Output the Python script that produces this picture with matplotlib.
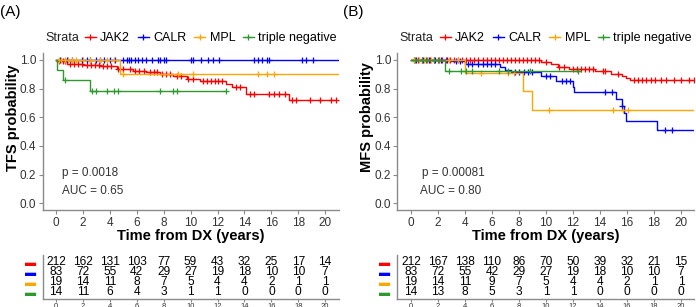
import numpy as np
import matplotlib
matplotlib.use("Agg")
import matplotlib.pyplot as plt
from matplotlib.lines import Line2D

plt.rcParams['font.family'] = ['Liberation Sans', 'DejaVu Sans']

strata = ["JAK2", "CALR", "MPL", "triple negative"]
colors = ["#FF0000", "#0000FF", "#FFA500", "#2E9A2E"]
risk_times = [0, 2, 4, 6, 8, 10, 12, 14, 16, 18, 20]

### panel A: TFS (step times, survival after step, last time, censor times)
tfs_jak2_t = [0, 0.1, 0.8, 2.0, 3.3, 4.5, 5.75, 6.7, 7.7, 8.7, 9.7, 10.7, 12.6, 13.1, 14.1, 17.3]
tfs_jak2_s = [1.0, 0.99, 0.975, 0.965, 0.955, 0.94, 0.925, 0.915, 0.90, 0.885, 0.87, 0.85, 0.83, 0.81, 0.76, 0.72]
tfs_jak2_end = 20.8
tfs_jak2_cens = [0.2, 0.5, 0.7, 1.0, 1.3, 1.6, 1.9, 2.3, 2.6, 2.9, 3.2, 3.5, 3.8, 4.1, 4.6, 5.0, 5.5,
                 5.9, 6.2, 6.5, 7.0, 7.3, 7.5, 7.9, 8.2, 8.5, 9.0, 9.3, 9.8, 10.2, 10.9, 11.2, 11.5,
                 11.8, 12.0, 12.3, 13.4, 13.7, 14.4, 14.7, 15.8, 16.2, 16.6, 17.0, 17.5, 17.8,
                 18.9, 19.6, 20.4, 20.8]

tfs_calr_t = [0]
tfs_calr_s = [1.0]
tfs_calr_end = 21.0
tfs_calr_cens = [0.3, 0.8, 1.2, 1.9, 2.3, 2.5, 3.0, 3.3, 3.6, 4.0, 4.4, 5.0, 5.3, 5.4, 5.6, 5.9, 6.1,
                 6.4, 6.7, 7.1, 7.6, 7.7, 8.0, 8.2, 10.0, 10.2, 10.8, 11.3, 11.7, 12.1, 14.7, 15.0,
                 15.3, 15.7, 15.8, 18.3, 18.6, 19.1]

tfs_mpl_t = [0, 4.75]
tfs_mpl_s = [1.0, 0.90]
tfs_mpl_end = 21.0
tfs_mpl_cens = [0.2, 0.4, 0.7, 0.9, 1.2, 1.5, 2.0, 2.5, 3.3, 3.8, 4.3, 5.0, 9.1, 10.2, 15.0, 15.7, 16.2]

tfs_tn_t = [0, 0.05, 0.5, 2.5]
tfs_tn_s = [1.0, 0.929, 0.857, 0.786]
tfs_tn_end = 12.6
tfs_tn_cens = [0.67, 2.65, 3.0, 3.8, 4.3, 4.6, 7.7, 8.7, 9.0, 12.6]

### panel B: MFS
mfs_jak2_t = [0, 9.6, 10.4, 10.9, 11.7, 13.6, 14.8, 15.6, 15.9, 16.2]
mfs_jak2_s = [1.0, 0.985, 0.97, 0.95, 0.935, 0.92, 0.90, 0.89, 0.875, 0.86]
mfs_jak2_end = 21.0
mfs_jak2_cens = [0.2, 0.5, 0.8, 1.1, 1.4, 1.7, 2.0, 2.3, 2.6, 2.9, 3.2, 3.5, 3.8, 4.1, 4.4, 4.7, 5.0,
                 5.3, 5.6, 5.9, 6.2, 6.5, 6.8, 7.1, 7.4, 7.7, 8.0, 8.3, 8.6, 8.9, 9.2, 9.5, 10.0,
                 11.0, 11.3, 12.0, 12.3, 12.6, 12.9, 13.2, 13.5, 14.2, 14.4, 15.3, 16.5, 16.8,
                 17.1, 17.4, 17.8, 18.1, 18.5, 18.9, 19.5, 20.0, 20.6, 21.0]

mfs_calr_t = [0, 3.0, 4.0, 6.6, 7.0, 7.4, 9.6, 10.75, 12.0, 12.1, 15.2, 15.6, 15.75, 15.9, 18.2]
mfs_calr_s = [1.0, 0.99, 0.97, 0.95, 0.93, 0.915, 0.885, 0.85, 0.81, 0.775, 0.725, 0.68, 0.63, 0.575, 0.51]
mfs_calr_end = 21.0
mfs_calr_cens = [0.4, 0.9, 1.3, 1.8, 2.2, 2.7, 3.3, 3.6, 4.2, 4.5, 5.0, 5.3, 5.6, 5.9, 6.2, 7.7, 8.0,
                 8.4, 8.7, 9.0, 10.0, 10.3, 11.2, 11.5, 11.8, 14.4, 14.9, 15.65, 18.8, 19.3]

mfs_mpl_t = [0, 4.0, 8.3, 9.0]
mfs_mpl_s = [1.0, 0.91, 0.785, 0.65]
mfs_mpl_end = 21.0
mfs_mpl_cens = [0.2, 0.6, 1.0, 1.5, 2.1, 2.8, 3.5, 5.2, 7.2, 7.6, 10.2, 15.0, 15.7, 16.1]

mfs_tn_t = [0, 2.5]
mfs_tn_s = [1.0, 0.92]
mfs_tn_end = 12.5
mfs_tn_cens = [0.3, 0.8, 1.2, 1.7, 2.1, 2.85, 3.7, 4.1, 4.5, 6.5, 7.2, 8.8, 12.4]

### numbers at risk
tfs_risk_jak2 = [212, 162, 131, 103, 77, 59, 43, 32, 25, 17, 14]
tfs_risk_calr = [83, 72, 55, 42, 29, 27, 19, 18, 10, 10, 7]
tfs_risk_mpl = [19, 14, 11, 8, 7, 5, 4, 4, 2, 1, 1]
tfs_risk_tn = [14, 11, 6, 4, 3, 1, 1, 0, 0, 0, 0]

mfs_risk_jak2 = [212, 167, 138, 110, 86, 70, 50, 39, 32, 21, 15]
mfs_risk_calr = [83, 72, 55, 42, 29, 27, 19, 18, 10, 10, 7]
mfs_risk_mpl = [19, 14, 11, 9, 7, 5, 4, 4, 2, 1, 1]
mfs_risk_tn = [14, 13, 8, 5, 3, 1, 1, 0, 0, 0, 0]

tfs_curves = [(tfs_jak2_t, tfs_jak2_s, tfs_jak2_end, tfs_jak2_cens),
              (tfs_calr_t, tfs_calr_s, tfs_calr_end, tfs_calr_cens),
              (tfs_mpl_t, tfs_mpl_s, tfs_mpl_end, tfs_mpl_cens),
              (tfs_tn_t, tfs_tn_s, tfs_tn_end, tfs_tn_cens)]
mfs_curves = [(mfs_jak2_t, mfs_jak2_s, mfs_jak2_end, mfs_jak2_cens),
              (mfs_calr_t, mfs_calr_s, mfs_calr_end, mfs_calr_cens),
              (mfs_mpl_t, mfs_mpl_s, mfs_mpl_end, mfs_mpl_cens),
              (mfs_tn_t, mfs_tn_s, mfs_tn_end, mfs_tn_cens)]

spine_col = "#8a8a8a"
tick_col = "#333333"


def draw_km(ax, curves, ylabel, pval, auc, txt_x):
    for (t, s, end, cens), col in zip(curves, colors):
        tt = list(t) + [end]
        ss = list(s) + [s[-1]]
        ax.step(tt, ss, where="post", color=col, lw=1.0)
        idx = np.searchsorted(t, cens, side="right") - 1
        ax.plot(cens, np.array(s)[idx], "+", color=col, ms=5, mew=0.9)
    ax.set_xlim(-1, 21)
    ax.set_ylim(-0.05, 1.05)
    ax.set_xticks(risk_times)
    ax.set_yticks([0, 0.2, 0.4, 0.6, 0.8, 1.0])
    ax.set_yticklabels(["0.0", "0.2", "0.4", "0.6", "0.8", "1.0"])
    for sp in ["top", "right"]:
        ax.spines[sp].set_visible(False)
    for sp in ["left", "bottom"]:
        ax.spines[sp].set_color(spine_col)
        ax.spines[sp].set_linewidth(1.0)
    ax.tick_params(colors=spine_col, labelcolor=tick_col, labelsize=8.5, length=3, pad=1.5)
    ax.set_xlabel("Time from DX (years)", fontsize=10.5, fontweight="bold", labelpad=0)
    ax.set_ylabel(ylabel, fontsize=10.5, fontweight="bold", labelpad=1)
    ax.yaxis.set_label_coords(-0.078, 0.59)
    ax.text(txt_x[0], 0.21, pval, fontsize=8.5, color=tick_col, va="center")
    ax.text(txt_x[1], 0.085, auc, fontsize=8.5, color=tick_col, va="center")
    # legend above the panel
    ax.text(0.008, 1.094, "Strata", transform=ax.transAxes, fontsize=9,
            va="center", ha="left", color="#222222")
    handles = [Line2D([0], [0], color=c, lw=1.0, marker="+", ms=5, mew=0.9) for c in colors]
    ax.legend(handles, strata, loc="center left", bbox_to_anchor=(0.142, 1.094), ncol=4,
              frameon=False, fontsize=9, handlelength=0.9, handletextpad=0.35,
              columnspacing=0.6, borderpad=0, borderaxespad=0)


def draw_risk(ax, rows):
    for k, (vals, col) in enumerate(zip(rows, colors)):
        ypos = 4 - k
        for x, v in zip(risk_times, vals):
            ax.text(x, ypos, str(v), ha="center", va="center", fontsize=8.6, color="black")
    ax.set_xlim(-1, 21)
    ax.set_ylim(0.3, 4.7)
    ax.set_xticks(risk_times)
    ax.set_yticks([4, 3, 2, 1])
    ax.set_yticklabels(["▬"] * 4, fontsize=8)
    for lab, col in zip(ax.get_yticklabels(), colors):
        lab.set_color(col)
    for sp in ["top", "right"]:
        ax.spines[sp].set_visible(False)
    for sp in ["left", "bottom"]:
        ax.spines[sp].set_color(spine_col)
        ax.spines[sp].set_linewidth(1.0)
    ax.tick_params(axis="y", length=0, pad=5)
    ax.tick_params(axis="x", colors=spine_col, labelcolor=tick_col, labelsize=5.5, length=2, pad=1)


fig = plt.figure(figsize=(6.96, 3.07), dpi=100)
axA = fig.add_axes([0.0612, 0.315, 0.4253, 0.513])
axB = fig.add_axes([0.5711, 0.315, 0.4267, 0.513])
tabA = fig.add_axes([0.0612, 0.026, 0.4253, 0.143])
tabB = fig.add_axes([0.5711, 0.026, 0.4267, 0.143])

draw_km(axA, tfs_curves, "TFS probability", "p = 0.0018", "AUC = 0.65", (0.45, 0.45))
draw_km(axB, mfs_curves, "MFS probability", "p = 0.00081", "AUC = 0.80", (0.8, 0.65))
draw_risk(tabA, [tfs_risk_jak2, tfs_risk_calr, tfs_risk_mpl, tfs_risk_tn])
draw_risk(tabB, [mfs_risk_jak2, mfs_risk_calr, mfs_risk_mpl, mfs_risk_tn])

fig.text(0.0, 0.96, "(A)", fontsize=11, va="center", ha="left")
fig.text(343 / 696, 0.96, "(B)", fontsize=11, va="center", ha="left")

fig.savefig("out.png", dpi=100)
